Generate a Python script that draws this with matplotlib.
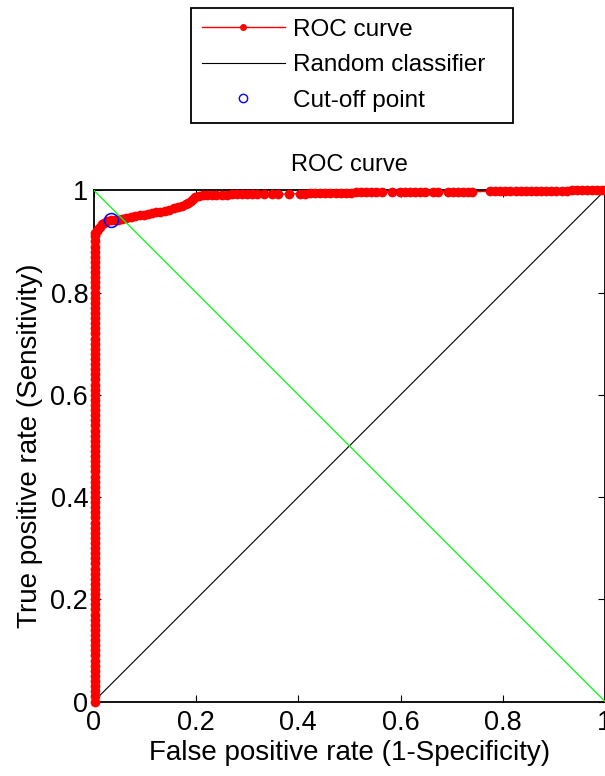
import matplotlib
matplotlib.use("Agg")
import matplotlib.pyplot as plt

plt.rcParams['font.family'] = ['Liberation Sans', 'DejaVu Sans']

# ROC curve: lower part sits on the y axis (fpr almost 0)
low_fpr = 0.003
low_tpr = [0.00, 0.01, 0.02, 0.03, 0.04, 0.05, 0.06, 0.07, 0.08, 0.09,
           0.10, 0.11, 0.12, 0.13, 0.14, 0.15, 0.16, 0.17, 0.18, 0.19,
           0.20, 0.21, 0.22, 0.23, 0.24, 0.25, 0.26, 0.27, 0.28, 0.29,
           0.30, 0.31, 0.32, 0.33, 0.34, 0.35, 0.36, 0.37, 0.38, 0.39,
           0.40, 0.41, 0.42, 0.43, 0.44, 0.45, 0.46, 0.47, 0.48, 0.49,
           0.50, 0.51, 0.52, 0.53, 0.54, 0.55, 0.56, 0.57, 0.58, 0.59,
           0.60, 0.61, 0.62, 0.63, 0.64, 0.65, 0.66, 0.67, 0.68, 0.69,
           0.70, 0.71, 0.72, 0.73, 0.74, 0.75, 0.76, 0.77, 0.78, 0.79,
           0.80, 0.81, 0.82, 0.83, 0.84, 0.85, 0.86, 0.87, 0.88, 0.89,
           0.90, 0.91]

# upper part of the ROC curve
high_fpr = [0.003, 0.006, 0.009, 0.012, 0.016, 0.020, 0.026, 0.033, 0.040, 0.048,
            0.055, 0.063, 0.072, 0.081, 0.090, 0.098, 0.106, 0.113, 0.122, 0.130,
            0.139, 0.147, 0.156, 0.165, 0.172, 0.180, 0.185, 0.190, 0.194, 0.198,
            0.206, 0.214, 0.222, 0.231, 0.240, 0.250, 0.260, 0.270, 0.280, 0.290,
            0.300, 0.310, 0.320, 0.332, 0.349, 0.360, 0.382, 0.403, 0.413, 0.423,
            0.433, 0.443, 0.453, 0.463, 0.473, 0.483, 0.493, 0.503, 0.513, 0.523,
            0.533, 0.543, 0.553, 0.564, 0.584, 0.599, 0.609, 0.619, 0.629, 0.639,
            0.648, 0.664, 0.673, 0.693, 0.703, 0.712, 0.722, 0.732, 0.740, 0.775,
            0.785, 0.795, 0.805, 0.815, 0.825, 0.835, 0.845, 0.855, 0.865, 0.875,
            0.885, 0.895, 0.905, 0.915, 0.925, 0.935, 0.945, 0.955, 0.965, 0.975,
            0.985, 0.995, 1.000]
high_tpr = [0.916, 0.920, 0.925, 0.929, 0.934, 0.937, 0.939, 0.941, 0.942, 0.942,
            0.943, 0.945, 0.947, 0.950, 0.951, 0.952, 0.954, 0.955, 0.957, 0.958,
            0.960, 0.962, 0.965, 0.968, 0.970, 0.973, 0.975, 0.979, 0.983, 0.987,
            0.989, 0.990, 0.990, 0.991, 0.991, 0.991, 0.991, 0.992, 0.992, 0.992,
            0.992, 0.992, 0.992, 0.992, 0.992, 0.992, 0.993, 0.993, 0.993, 0.994,
            0.994, 0.994, 0.994, 0.995, 0.995, 0.995, 0.995, 0.995, 0.996, 0.996,
            0.996, 0.996, 0.996, 0.996, 0.997, 0.997, 0.997, 0.997, 0.997, 0.997,
            0.997, 0.997, 0.997, 0.997, 0.997, 0.997, 0.997, 0.997, 0.997, 0.998,
            0.998, 0.998, 0.998, 0.998, 0.998, 0.998, 0.999, 0.999, 0.999, 0.999,
            0.999, 0.999, 0.999, 0.999, 0.999, 1.000, 1.000, 1.000, 1.000, 1.000,
            1.000, 1.000, 1.000]

cutoff_fpr = 0.033
cutoff_tpr = 0.941

random_x = [0, 1]
random_y = [0, 1]
anti_x = [0, 1]
anti_y = [1, 0]

ticks = [0, 0.2, 0.4, 0.6, 0.8, 1]
tick_labels = ['0', '0.2', '0.4', '0.6', '0.8', '1']

roc_fpr = [low_fpr] * len(low_tpr) + high_fpr
roc_tpr = low_tpr + high_tpr

fig = plt.figure(figsize=(6.05, 7.76), dpi=100)
ax = fig.add_axes([93.8 / 605, 74.5 / 776, 511.2 / 605, 511.2 / 776])

# roc curve drawn unclipped and above the spines, like the thick matlab markers
h_roc, = ax.plot(roc_fpr, roc_tpr, '-', color='#ff0000', lw=1.0, marker='o',
                 ms=7, mec='#ff0000', mfc='#ff0000', mew=0, label='ROC curve',
                 clip_on=False, zorder=3)
h_rand, = ax.plot(random_x, random_y, '-', color='black', lw=0.8, label='Random classifier')
ax.plot(anti_x, anti_y, '-', color='#00ff00', lw=0.9, zorder=3.5)
h_cut, = ax.plot([cutoff_fpr], [cutoff_tpr], 'o', ms=10, mfc='none', mec='#0000ff',
                 mew=1.1, label='Cut-off point', zorder=4)

ax.set_xlim(0, 1)
ax.set_ylim(0, 1)
ax.set_xticks(ticks)
ax.set_xticklabels(tick_labels)
ax.set_yticks(ticks)
ax.set_yticklabels(tick_labels)
ax.tick_params(direction='in', length=5, width=0.8, top=True, right=True,
               labelsize=19.5)
ax.tick_params(axis='x', pad=6)
ax.tick_params(axis='y', pad=4)
for s in ax.spines.values():
    s.set_linewidth(1.3)

ax.set_title('ROC curve', fontsize=17, pad=14)
ax.set_xlabel('False positive rate (1-Specificity)', fontsize=20)
ax.set_ylabel('True positive rate (Sensitivity)', fontsize=20)
ax.xaxis.set_label_coords(0.5, -0.076)
ax.yaxis.set_label_coords(-0.0994, 0.5)

leg = fig.legend(handles=[h_roc, h_rand, h_cut], loc='upper left',
                 bbox_to_anchor=(191 / 605, 1 - 8 / 776, 322 / 605, 0), mode='expand',
                 borderaxespad=0, fontsize=17.5, fancybox=False, framealpha=1,
                 edgecolor='black', handlelength=3.4, handletextpad=0.33,
                 labelspacing=0.55, borderpad=0.45, numpoints=1)
leg.get_frame().set_linewidth(1.3)
lh = leg.legend_handles
lh[0].set_markersize(5)
lh[2].set_markersize(6)
lh[2].set_markeredgewidth(1.0)

fig.savefig('out.png', dpi=100)
